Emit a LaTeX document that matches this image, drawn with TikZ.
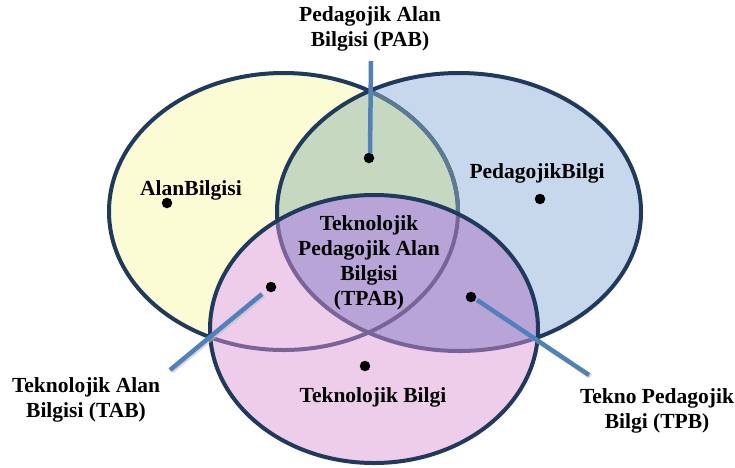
\documentclass[tikz,border=0pt]{standalone}
\usepackage{fontspec}
\setmainfont{Liberation Serif}
\definecolor{yel}{HTML}{FCFCD4}
\definecolor{blu}{HTML}{C8D8EC}
\definecolor{grn}{HTML}{C7D8C0}
\definecolor{pnk}{HTML}{EECDEB}
\definecolor{pur}{HTML}{B8A4D6}
\definecolor{rimdark}{HTML}{1F3A5C}
\definecolor{rimgray}{HTML}{5E7A92}
\definecolor{rimpur}{HTML}{7A6497}
\definecolor{leadblue}{HTML}{4F81BD}
\def\Lell{(283.5,211.5) ellipse [x radius=174.5pt, y radius=138.5pt]}
\def\Rell{(459,212) ellipse [x radius=182pt, y radius=139pt]}
\def\Bell{(374,329) ellipse [x radius=164pt, y radius=134pt]}
\begin{document}
\begin{tikzpicture}[x=1pt,y=-1pt,
  lbl/.style={font=\fontsize{21.5}{25}\selectfont\bfseries, align=center, inner sep=0pt},
  dotnode/.style={circle, fill=black, inner sep=0pt, minimum size=10.5pt},
  lead/.style={draw=leadblue, line width=4.5pt},
  leadshadow/.style={draw=black!25, line width=4.5pt, opacity=0.6},
  rim/.style={line width=4pt}]
\useasboundingbox[fill=white] (0,0) rectangle (735,467);
% fills
\fill[yel] \Lell;
\fill[blu] \Rell;
\begin{scope}\clip \Rell; \fill[grn] \Lell; \end{scope}
% left rim
\draw[rim, rimdark] \Lell;
\begin{scope}\clip \Rell; \draw[rim, rimgray] \Lell; \end{scope}
% right rim
\draw[rim, rimdark] \Rell;
% bottom
\fill[pnk] \Bell;
\begin{scope}\clip \Bell; \fill[pur] \Rell; \end{scope}
\begin{scope}\clip \Bell; \draw[rim, rimpur] \Lell; \draw[rim, rimpur] \Rell; \end{scope}
\draw[rim, rimdark] \Bell;
% labels
\node[lbl] (pab) at (370,29) {Pedagojik Alan\\Bilgisi (PAB)};
\node[lbl] (ab) at (191,190) {AlanBilgisi};
\node[lbl] (pb) at (537,173) {PedagojikBilgi};
\node[lbl] (tpab) at (369,263) {Teknolojik\\Pedagojik Alan\\Bilgisi\\(TPAB)};
\node[lbl] (tb) at (373,397) {Teknolojik Bilgi};
\node[lbl] (tab) at (86,400) {Teknolojik Alan\\Bilgisi (TAB)};
\node[lbl] (tpb) at (657,411) {Tekno Pedagojik\\Bilgi (TPB)};
% dots
\node[dotnode] (dab) at (167,203) {};
\node[dotnode] (dpb) at (540,199) {};
\node[dotnode] (dpab) at (369,158) {};
\node[dotnode] (dtab) at (271,287) {};
\node[dotnode] (dtpb) at (471,297) {};
\node[dotnode] (dtb) at (365,366) {};
% leader lines
\coordinate (pabtop) at (371,61);
\coordinate (tabend) at (170,370);
\coordinate (tpbend) at (589,375);
\coordinate (pabbot) at (370,153);
\coordinate (tabstart) at (262,294);
\coordinate (tpbstart) at (477,300);
\draw[leadshadow] ([shift={(1.5,1.5)}]tabstart) -- ([shift={(1.5,1.5)}]tabend);
\draw[leadshadow] ([shift={(1.5,1.5)}]tpbstart) -- ([shift={(1.5,1.5)}]tpbend);
\draw[lead] (pabtop) -- (pabbot);
\draw[lead] (tabstart) -- (tabend);
\draw[lead] (tpbstart) -- (tpbend);
\end{tikzpicture}
\end{document}
